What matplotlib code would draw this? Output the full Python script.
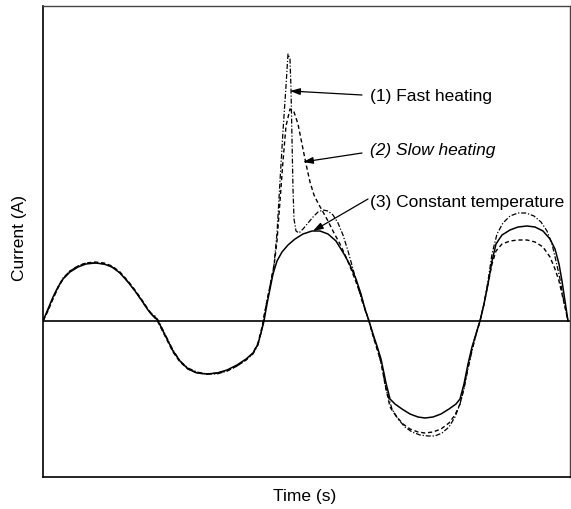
import numpy as np
import matplotlib
matplotlib.use("Agg")
import matplotlib.pyplot as plt

plt.rcParams['font.family'] = ['Liberation Sans', 'DejaVu Sans']

# ---- data (arbitrary units) ----
t_const = [0,5,10,15,20,27,35,43,52,61,69,77,85,92,99,105,109,112,115,119,124,130,137,145,154,164,174,184,194,203,210,215,219,221,224,227,230,234,239,245,252,260,269,277,285,293,301,307,313,318,322,326,330,334,338,343,347,352,359,367,375,382,390,398,406,413,417,421,425,429,433,437,441,445,449,453,459,467,475,484,492,500,507,512,516,519,522,525]
i_const = [0,12,24,34,42,49,54,57,58,57,54,48,39,30,20,11,6,4,0,-8,-18,-30,-40,-48,-52,-53,-52,-49,-44,-38,-32,-23,-8,0,17,32,47,60,69,76,82,87,90,90,87,80,67,56,42,27,12,0,-13,-25,-38,-62,-78,-83,-88,-93,-96,-97,-96,-93,-88,-83,-78,-63,-43,-26,-13,0,17,37,60,77,86,91,94,95,94,90,82,72,57,40,20,0]

t_slow = [0,5,10,15,20,27,35,43,52,61,69,77,85,92,99,105,109,112,115,119,124,130,137,145,154,164,174,184,194,203,210,215,219,
          222,225,228,231,234,237,240,243,247,251,255,259,263,267,271,275,280,285,291,297,303,308,313,318,322,326,330,334,338,342,347,353,360,367,375,382,390,398,406,412,417,421,425,429,433,437,441,445,449,453,459,467,475,484,492,500,507,512,516,519,522,525]
i_slow = [0,10,22,33,42,50,55,58,59,58,55,49,40,31,21,12,6,3,-1,-9,-19,-31,-41,-48,-52,-53,-52,-50,-45,-39,-32,-22,-6,
          10,25,40,55,80,120,160,195,212,209,197,177,157,139,126,118,109,100,88,77,64,52,39,25,12,0,-15,-28,-41,-63,-86,-95,-103,-108,-111,-112,-111,-108,-102,-94,-83,-66,-46,-28,-13,0,17,37,57,70,77,80,81,81,79,74,64,52,40,27,14,0]

t_fast = [0,5,10,15,20,27,35,43,52,61,69,77,85,92,99,105,109,112,115,119,124,130,137,145,154,164,174,184,194,203,210,215,219,
          222,225,228,231,234,237,240,243,245,247,248,249,250,251,253,256,260,265,270,275,280,285,290,295,300,305,310,315,319,323,326,330,335,339,343,349,355,362,369,377,385,392,399,406,412,417,421,425,429,433,437,441,445,449,454,460,467,475,483,491,498,504,509,513,517,520,523,525]
i_fast = [0,11,23,34,43,50,55,58,58,57,54,48,39,30,20,11,7,5,1,-7,-17,-29,-40,-47,-51,-53,-53,-50,-45,-39,-33,-24,-8,
          10,25,40,56,88,140,190,235,267,262,232,182,132,102,90,88,92,98,104,109,111,110,106,98,86,70,52,34,20,8,0,-14,-30,-46,-68,-88,-98,-106,-111,-114,-115,-115,-112,-106,-96,-83,-68,-48,-30,-14,0,17,40,67,87,98,105,108,108,105,99,90,77,60,42,24,10,0]

labels = ["(1) Fast heating", "(2) Slow heating", "(3) Constant temperature"]

fig = plt.figure(figsize=(5.71, 5.10), dpi=100)
ax = fig.add_axes([43/571, 1-478/510, 527/571, 471/510])

ax.plot(t_const, i_const, color='black', lw=1.1, ls='-')
ax.plot(t_slow, i_slow, color='black', lw=1.0, ls=(0, (3, 2)))
ax.plot(t_fast, i_fast, color='black', lw=0.9, ls=(0, (4, 1.5, 1, 1.5)))
ax.axhline(0, color='black', lw=1.2)

ax.set_xlim(0, 527)
ax.set_ylim(-156, 315)
ax.set_xticks([])
ax.set_yticks([])
for s in ['left', 'bottom']:
    ax.spines[s].set_color('black')
    ax.spines[s].set_linewidth(1.2)
for s in ['top', 'right']:
    ax.spines[s].set_color('#444444')
    ax.spines[s].set_linewidth(1.0)

ap = dict(arrowstyle='-|>,head_length=0.6,head_width=0.2', color='black', lw=0.9,
          shrinkA=0, shrinkB=0)
ax.annotate('', xy=(247, 230), xytext=(319, 226), arrowprops=ap)
ax.annotate('', xy=(260, 159), xytext=(319, 168), arrowprops=ap)
ax.annotate('', xy=(270, 90), xytext=(325, 122), arrowprops=ap)

ax.text(327, 225, labels[0], fontsize=12.5, ha='left', va='center')
ax.text(327, 172, labels[1], fontsize=12.5, ha='left', va='center', style='italic')
ax.text(327, 119, labels[2], fontsize=12.5, ha='left', va='center')

fig.text(305/571, 1-497/510, "Time (s)", fontsize=12.5, ha='center', va='center')
fig.text(20/571, 1-238/510, "Current (A)", fontsize=12.5, ha='center', va='center', rotation=90)

fig.savefig("out.png", dpi=100)
